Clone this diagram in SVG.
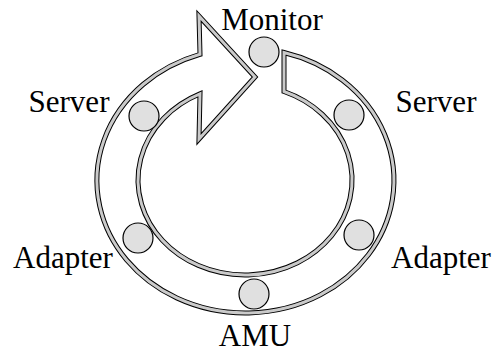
<svg xmlns="http://www.w3.org/2000/svg" xmlns:xlink="http://www.w3.org/1999/xlink" width="498" height="354" viewBox="0 0 498 354">
<style>
.lbl{font-family:"Liberation Serif","Times New Roman",serif;font-size:31px;fill:#000;text-anchor:middle}
.dot{fill:#e0e0e0;stroke:#000;stroke-width:1.2}
.edge{fill:none;stroke:#000;stroke-width:5;stroke-linejoin:miter;stroke-miterlimit:10}
.edgein{fill:none;stroke:#cacaca;stroke-width:3;stroke-linejoin:miter;stroke-miterlimit:10}
</style>
<defs>
<path id="band" d="M284,91.5 L284,52.5 A148.5,132.5 0 1 1 200,54.3 L199,16 L255,77 L199,139 L200,93.8 A107,95 0 1 0 284,91.5 Z"/>
</defs>
<rect width="498" height="354" fill="#fff"/>
<g id="connectors">
<use xlink:href="#band" class="edge"/>
<use xlink:href="#band" class="edgein"/>
</g>
<g id="monitor"><circle class="dot" cx="264" cy="52" r="15"/><text class="lbl" x="272" y="30">Monitor</text></g>
<g id="server-left"><circle class="dot" cx="144" cy="116" r="15"/><text class="lbl" x="69" y="112">Server</text></g>
<g id="server-right"><circle class="dot" cx="349" cy="115" r="15"/><text class="lbl" x="436" y="112">Server</text></g>
<g id="adapter-left"><circle class="dot" cx="138" cy="238" r="15"/><text class="lbl" x="63" y="268">Adapter</text></g>
<g id="adapter-right"><circle class="dot" cx="359" cy="235" r="15"/><text class="lbl" x="441" y="268">Adapter</text></g>
<g id="amu"><circle class="dot" cx="254" cy="294" r="15"/><text class="lbl" x="255" y="346">AMU</text></g>
</svg>
